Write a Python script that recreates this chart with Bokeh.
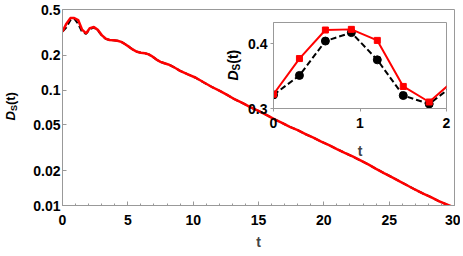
import math
from bokeh.plotting import figure
from bokeh.models import FixedTicker, Range1d
from bokeh.core.properties import value
from bokeh.layouts import column
from bokeh.embed import file_html
from bokeh.resources import INLINE

# ---------------- data ----------------
t = [0.0, 0.3, 0.6, 0.9, 1.2, 1.5, 1.8, 2.1, 2.4, 2.7, 3.0, 3.3, 3.6, 3.9, 4.2, 4.5,
     4.8, 5.1, 5.4, 5.7, 6.0, 6.3, 6.6, 6.9, 7.2, 7.5, 7.8, 8.1, 8.4, 8.7, 9.0, 9.6,
     10.2, 10.8, 11.4, 12.0, 12.6, 13.2, 13.8, 14.4, 15.0, 15.6, 16.2, 16.8, 17.4,
     18.0, 18.6, 19.2, 19.8, 20.4, 21.0, 21.6, 22.2, 22.8, 23.4, 24.0, 24.6, 25.2,
     25.8, 26.4, 27.0, 27.6, 28.2, 28.8, 29.4, 30.0]
ds_red = [0.322, 0.377, 0.421, 0.422, 0.405, 0.334, 0.310, 0.345, 0.352, 0.333, 0.300,
          0.280, 0.272, 0.271, 0.268, 0.262, 0.250, 0.237, 0.224, 0.215, 0.211, 0.209,
          0.204, 0.195, 0.184, 0.176, 0.171, 0.167, 0.161, 0.154, 0.147, 0.137, 0.128,
          0.117, 0.107, 0.099, 0.091, 0.083, 0.077, 0.071, 0.066, 0.061, 0.056, 0.052,
          0.048, 0.045, 0.0415, 0.0388, 0.0358, 0.0334, 0.0308, 0.0286, 0.0266, 0.0246,
          0.0227, 0.0208, 0.0191, 0.0176, 0.0162, 0.0149, 0.0137, 0.0127, 0.0118,
          0.0109, 0.0102, 0.0096]
ds_black = [0.321, 0.351, 0.404, 0.417, 0.375, 0.320, 0.307, 0.338, 0.349, 0.330, 0.298,
            0.279, 0.272, 0.271, 0.268, 0.262, 0.250, 0.237, 0.224, 0.215, 0.211, 0.209,
            0.204, 0.195, 0.184, 0.176, 0.171, 0.167, 0.161, 0.154, 0.147, 0.137, 0.128,
            0.117, 0.107, 0.099, 0.091, 0.083, 0.077, 0.071, 0.066, 0.061, 0.056, 0.052,
            0.048, 0.045, 0.0415, 0.0388, 0.0358, 0.0334, 0.0308, 0.0286, 0.0266, 0.0246,
            0.0227, 0.0208, 0.0191, 0.0176, 0.0162, 0.0149, 0.0137, 0.0127, 0.0118,
            0.0109, 0.0102, 0.0096]

main_xticks = [0, 5, 10, 15, 20, 25, 30]
main_xminor = list(range(0, 31))
main_yticks = [0.01, 0.02, 0.05, 0.1, 0.2, 0.5]
main_ylabels = ["0.01", "0.02", "0.05", "0.1", "0.2", "0.5"]
inset_xticks = [0, 1, 2]
inset_yticks = [0.3, 0.4]

FONT = "Liberation Sans"
GRAY = "#999999"

# page geometry (pixels). A column aligns the left/right borders of its plots,
# so every figure uses the same left/right borders and is shifted with margins.
W, H = 460, 254
BL, BR = 62, 6                      # common left / right borders
MAIN_T, MAIN_B = 9, 205             # main frame top / bottom
IN_L, IN_R, IN_T, IN_B = 273, 446, 22, 108   # inset frame

# ---------------- main figure ----------------
p = figure(width=W, height=H, y_axis_type="log", x_range=(0, 30), y_range=(0.01, 0.5),
           output_backend="svg", toolbar_location=None,
           min_border_left=BL, min_border_right=BR, min_border_top=MAIN_T,
           min_border_bottom=H - MAIN_B)
p.xgrid.visible = False
p.ygrid.visible = False
p.outline_line_color = GRAY
p.outline_line_width = 1

p.xaxis.ticker = FixedTicker(ticks=main_xticks, minor_ticks=main_xminor)
p.yaxis.ticker = FixedTicker(ticks=main_yticks, minor_ticks=[])
p.yaxis.major_label_overrides = dict(zip(main_yticks, main_ylabels))

for ax in (p.xaxis[0], p.yaxis[0]):
    ax.axis_line_color = GRAY
    ax.major_tick_line_color = GRAY
    ax.minor_tick_line_color = GRAY
    ax.major_tick_in = 4
    ax.major_tick_out = 0
    ax.minor_tick_in = 2
    ax.minor_tick_out = 0
    ax.major_label_text_font = FONT
    ax.major_label_text_font_style = "bold"
    ax.major_label_text_font_size = "14px"
    ax.major_label_text_color = "black"
p.yaxis.major_label_standoff = 2
p.xaxis.major_label_standoff = 9
p.xaxis.axis_label = "t"
p.xaxis.axis_label_text_font = FONT
p.xaxis.axis_label_text_font_style = "bold"
p.xaxis.axis_label_text_font_size = "14px"
p.xaxis.axis_label_standoff = 6

p.line(t, ds_black, color="black", line_width=2, line_dash="6 3")
p.line(t, ds_red, color="red", line_width=2.5)

# ---------------- inset figure ----------------
QX = IN_L - BL                     # canvas left on the page
QY = 15                            # canvas top on the page
QW = IN_R + BR - QX
QH = 151
y_in_top = 0.4326
q = figure(width=QW, height=QH, x_range=(0, 2), y_range=(0.3, y_in_top),
           output_backend="svg", toolbar_location=None,
           min_border_left=BL, min_border_right=BR, min_border_top=IN_T - QY,
           min_border_bottom=QY + QH - IN_B)
q.margin = (QY - H, 0, H - QY - QH, QX)
q.border_fill_alpha = 0
q.background_fill_color = "white"
q.xgrid.visible = False
q.ygrid.visible = False
q.outline_line_color = GRAY
q.xaxis.ticker = FixedTicker(ticks=inset_xticks, minor_ticks=[])
q.yaxis.ticker = FixedTicker(ticks=inset_yticks, minor_ticks=[])
for ax in (q.xaxis[0], q.yaxis[0]):
    ax.axis_line_color = GRAY
    ax.major_tick_line_color = GRAY
    ax.major_tick_in = 0
    ax.major_tick_out = 3
    ax.minor_tick_line_color = None
    ax.major_label_text_font = FONT
    ax.major_label_text_font_style = "bold"
    ax.major_label_text_font_size = "14px"
    ax.major_label_text_color = "black"
q.yaxis.major_label_standoff = 3
q.xaxis.major_label_standoff = 6
q.xaxis.axis_label = "t"
q.xaxis.axis_label_text_font = FONT
q.xaxis.axis_label_text_font_style = "bold"
q.xaxis.axis_label_text_font_size = "14px"
q.xaxis.axis_label_standoff = 12

q.line(t, ds_black, color="black", line_width=2, line_dash="6 3")
q.scatter(t, ds_black, marker="circle", size=8, color="black")
q.line(t, ds_red, color="red", line_width=2)
q.scatter(t, ds_red, marker="square", size=6, color="red")

# ---------------- overlay for rotated y labels  D_S(t) ----------------
RX = -60                           # canvas left on the page -> frame starts at RX+BL
r = figure(width=W, height=H, x_range=Range1d(RX + BL, RX + W - BR), y_range=Range1d(0, H),
           output_backend="svg", toolbar_location=None, title=None,
           x_axis_location=None, y_axis_location=None,
           min_border_left=BL, min_border_right=BR, min_border_top=0, min_border_bottom=0)
r.margin = (-H, 0, 0, RX)
r.xgrid.visible = False
r.ygrid.visible = False
r.outline_line_color = None
r.background_fill_alpha = 0
r.border_fill_alpha = 0


def ds_label(fig, x0, y_bottom, size, sub_size):
    d_w = 0.722 * size
    s_w = 0.667 * sub_size
    common = dict(angle=math.pi / 2, text_align="left", text_baseline="middle",
                  text_font=value(FONT), text_color="black")
    fig.text(x=[x0], y=[H - y_bottom], text=["D"], text_font_style="bold italic",
             text_font_size=value(f"{size}px"), **common)
    fig.text(x=[x0 + 3.5], y=[H - (y_bottom - d_w)], text=["S"], text_font_style="bold",
             text_font_size=value(f"{sub_size}px"), **common)
    fig.text(x=[x0], y=[H - (y_bottom - d_w - s_w)], text=["(t)"], text_font_style="bold",
             text_font_size=value(f"{size}px"), **common)


ds_label(r, 10, 120, 13, 9)
ds_label(r, 232, 80, 14, 10)

layout = column(p, q, r)
open("out.html", "w").write(file_html(layout, INLINE))
